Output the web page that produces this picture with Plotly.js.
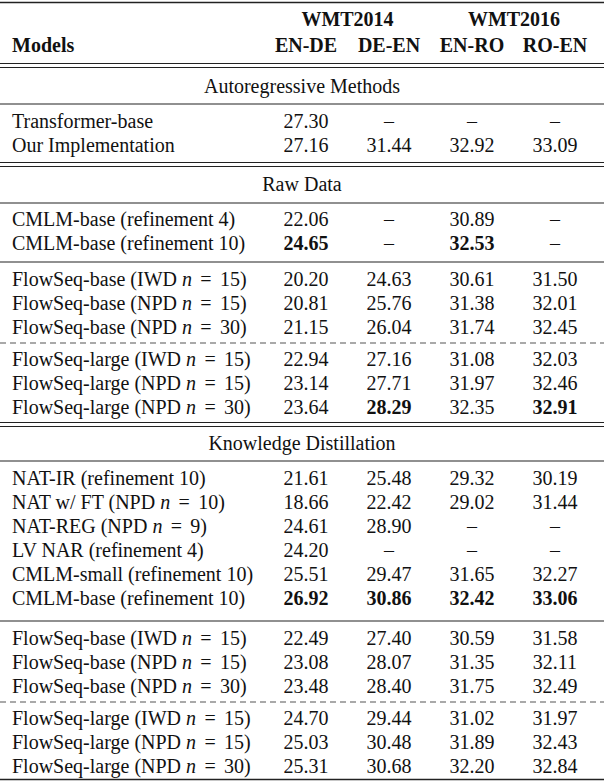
<!DOCTYPE html>
<html>
<head>
<meta charset="utf-8">
<script src="https://cdn.plot.ly/plotly-3.0.1.min.js"></script>
<style>html,body{margin:0;padding:0;background:#fff;}#chart{width:604px;height:782px;}</style>
</head>
<body>
<div id="chart"></div>
<script>
// ---- data ----
const groupHeaders = ["WMT2014", "WMT2016"];
const colHeaders = ["EN-DE", "DE-EN", "EN-RO", "RO-EN"];
const modelsHeader = "Models";
const sectionTitles = ["Autoregressive Methods", "Raw Data", "Knowledge Distillation"];
const EQ = "\u2004\u200A=\u2004\u200A";
const models = [
  "Transformer-base", "Our Implementation",
  "CMLM-base (refinement 4)", "CMLM-base (refinement 10)",
  "FlowSeq-base (IWD <i>n</i>"+EQ+"15)", "FlowSeq-base (NPD <i>n</i>"+EQ+"15)", "FlowSeq-base (NPD <i>n</i>"+EQ+"30)",
  "FlowSeq-large (IWD <i>n</i>"+EQ+"15)", "FlowSeq-large (NPD <i>n</i>"+EQ+"15)", "FlowSeq-large (NPD <i>n</i>"+EQ+"30)",
  "NAT-IR (refinement 10)", "NAT w/ FT (NPD <i>n</i>"+EQ+"10)", "NAT-REG (NPD <i>n</i>"+EQ+"9)", "LV NAR (refinement 4)",
  "CMLM-small (refinement 10)", "CMLM-base (refinement 10)",
  "FlowSeq-base (IWD <i>n</i>"+EQ+"15)", "FlowSeq-base (NPD <i>n</i>"+EQ+"15)", "FlowSeq-base (NPD <i>n</i>"+EQ+"30)",
  "FlowSeq-large (IWD <i>n</i>"+EQ+"15)", "FlowSeq-large (NPD <i>n</i>"+EQ+"15)", "FlowSeq-large (NPD <i>n</i>"+EQ+"30)"
];
const enDe = [27.30, 27.16, 22.06, 24.65, 20.20, 20.81, 21.15, 22.94, 23.14, 23.64,
  21.61, 18.66, 24.61, 24.20, 25.51, 26.92, 22.49, 23.08, 23.48, 24.70, 25.03, 25.31];
const deEn = [null, 31.44, null, null, 24.63, 25.76, 26.04, 27.16, 27.71, 28.29,
  25.48, 22.42, 28.90, null, 29.47, 30.86, 27.40, 28.07, 28.40, 29.44, 30.48, 30.68];
const enRo = [null, 32.92, 30.89, 32.53, 30.61, 31.38, 31.74, 31.08, 31.97, 32.35,
  29.32, 29.02, null, null, 31.65, 32.42, 30.59, 31.35, 31.75, 31.02, 31.89, 32.20];
const roEn = [null, 33.09, null, null, 31.50, 32.01, 32.45, 32.03, 32.46, 32.91,
  30.19, 31.44, null, null, 32.27, 33.06, 31.58, 32.11, 32.49, 31.97, 32.43, 32.84];
// highlighted (bold) cells: [row, col]
const boldCells = [[3,0],[3,2],[9,1],[9,3],[15,0],[15,1],[15,2],[15,3]];

// ---- layout ----
const W = 604, H = 782;
const FONT = "Liberation Serif";
const FS = 20;
const DY = 2; // vertical nudge for text
const rowY = [121,145, 219,243, 279,303,327, 359,383,407,
  478,502,526,550,574,598, 638,662,686, 718,742,766].map(v => v + DY);
const colX = [306, 389, 472, 555];
const groupX = [347.5, 514];
const sectionY = [86, 184, 443].map(v => v + DY);
const headY1 = 21, headY2 = 47;
const modelX = 12;

const isBold = (r,c) => boldCells.some(b => b[0]===r && b[1]===c);
const cols = [enDe, deEn, enRo, roEn];
const fmt = (v) => v === null ? "–" : v.toFixed(2);

const traces = [];
const font = {family: FONT, size: FS, color: "#111"};
// model names
traces.push({type:"scatter", mode:"text", x: rowY.map(()=>modelX), y: rowY,
  text: models, textposition:"middle right", textfont: font, cliponaxis:false, hoverinfo:"skip"});
// values
cols.forEach((arr, c) => {
  traces.push({type:"scatter", mode:"text", x: rowY.map(()=>colX[c]), y: rowY,
    text: arr.map((v,r) => isBold(r,c) ? "<b>"+fmt(v)+"</b>" : fmt(v)),
    textposition:"middle center", textfont: font, cliponaxis:false, hoverinfo:"skip"});
});
// headers
traces.push({type:"scatter", mode:"text", x: groupX, y: groupX.map(()=>headY1),
  text: groupHeaders.map(t=>"<b>"+t+"</b>"), textposition:"middle center", textfont: font, cliponaxis:false, hoverinfo:"skip"});
traces.push({type:"scatter", mode:"text", x: colX, y: colX.map(()=>headY2),
  text: colHeaders.map(t=>"<b>"+t+"</b>"), textposition:"middle center", textfont: font, cliponaxis:false, hoverinfo:"skip"});
traces.push({type:"scatter", mode:"text", x: [modelX], y: [headY2],
  text: ["<b>"+modelsHeader+"</b>"], textposition:"middle right", textfont: font, cliponaxis:false, hoverinfo:"skip"});
// section titles
traces.push({type:"scatter", mode:"text", x: sectionY.map(()=>W/2), y: sectionY,
  text: sectionTitles, textposition:"middle center", textfont: font, cliponaxis:false, hoverinfo:"skip"});

const LC = "#222";
function hline(y, w, dash) {
  return {type:"line", xref:"x", yref:"y", x0:0, x1:W, y0:y, y1:y,
    line:{color: dash ? "#555" : LC, width:w, dash: dash || "solid"}};
}
const shapes = [
  hline(2.5, 1.6),
  hline(63.5, 1.2), hline(67.5, 1.2),
  hline(104, 1.2),
  hline(162.5, 1.2), hline(166.5, 1.2),
  hline(203, 1.2),
  hline(262, 1.2),
  hline(343, 1.1, "6px,4px"),
  hline(422.5, 1.2), hline(426.5, 1.2),
  hline(461, 1.2),
  hline(621, 1.2),
  hline(702, 1.1, "6px,4px"),
  hline(779.5, 1.6)
];

const layout = {
  width: W, height: H,
  margin: {l:0, r:0, t:0, b:0},
  paper_bgcolor: "#fff", plot_bgcolor: "#fff",
  showlegend: false,
  xaxis: {range:[0, W], visible:false, fixedrange:true},
  yaxis: {range:[H, 0], visible:false, fixedrange:true},
  shapes: shapes
};
Plotly.newPlot("chart", traces, layout, {displayModeBar:false, staticPlot:true});
</script>
</body>
</html>
